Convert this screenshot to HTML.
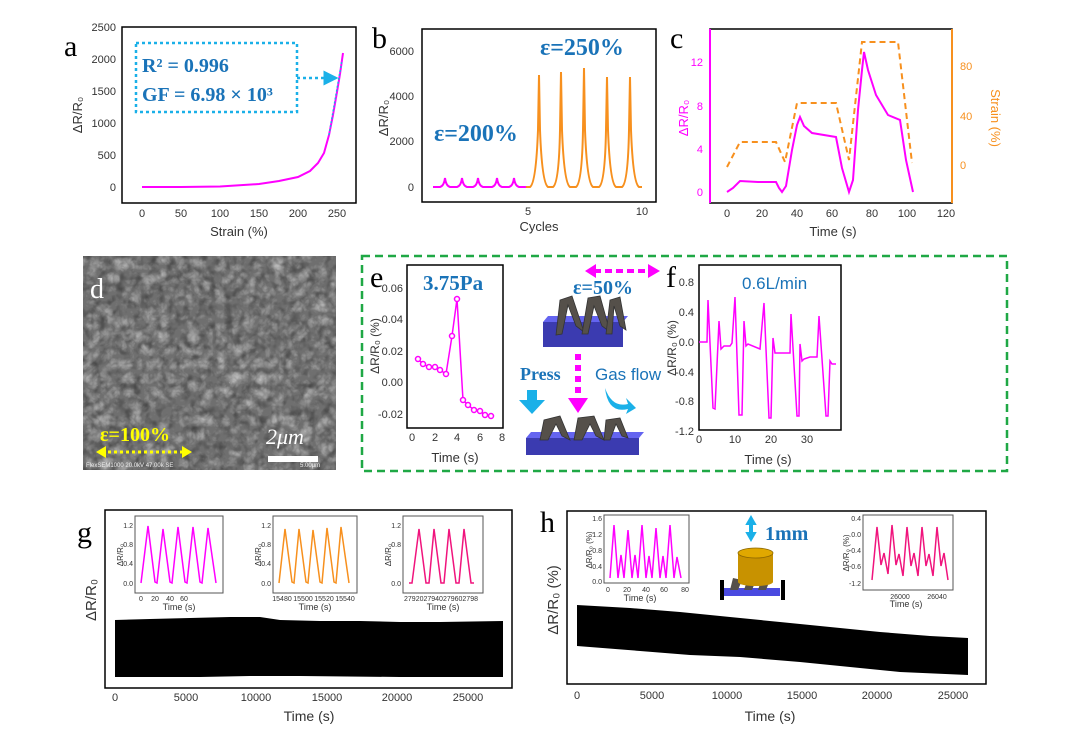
<!DOCTYPE html>
<html><head><meta charset="utf-8"><style>
html,body{margin:0;padding:0;background:#fff;width:1080px;height:729px;overflow:hidden}
svg{display:block}
text{font-family:"Liberation Sans",sans-serif}
.s{font-family:"Liberation Serif",serif}
.t{font-size:11px;fill:#333}
.ti{font-size:7px;fill:#333}
</style></head><body>
<svg width="1080" height="729" viewBox="0 0 1080 729" xmlns="http://www.w3.org/2000/svg">
<defs>
<clipPath id="semclip"><rect x="83" y="256" width="253" height="214"/></clipPath>
<filter id="sem" filterUnits="userSpaceOnUse" x="83" y="256" width="253" height="214">
<feTurbulence type="turbulence" baseFrequency="0.07" numOctaves="3" seed="4"/>
<feColorMatrix type="matrix" values="0 0 0 0 1  0 0 0 0 1  0 0 0 0 1  1.4 0 0 0 -0.25"/>
</filter>
<filter id="sem2" filterUnits="userSpaceOnUse" x="83" y="256" width="253" height="214">
<feTurbulence type="fractalNoise" baseFrequency="0.12" numOctaves="2" seed="9"/>
<feColorMatrix type="matrix" values="0 0 0 0 0  0 0 0 0 0  0 0 0 0 0  1.6 0 0 0 -0.7"/>
</filter>
<marker id="ac" markerWidth="6" markerHeight="6" refX="5" refY="3" orient="auto"><path d="M0,0L6,3L0,6z" fill="#1ab0e8"/></marker>
</defs>

<!-- ===== a ===== -->
<text x="64" y="56" class="s" font-size="30">a</text>
<rect x="122" y="27" width="234" height="176" fill="none" stroke="#000" stroke-width="1.5"/>
<g class="t" text-anchor="end">
<text x="116" y="31">2500</text><text x="116" y="63">2000</text><text x="116" y="95">1500</text><text x="116" y="127">1000</text><text x="116" y="159">500</text><text x="116" y="191">0</text></g>
<g class="t" text-anchor="middle">
<text x="142" y="217">0</text><text x="181" y="217">50</text><text x="220" y="217">100</text><text x="259" y="217">150</text><text x="298" y="217">200</text><text x="337" y="217">250</text>
<text x="239" y="236" font-size="13">Strain (%)</text></g>
<text transform="translate(82,115) rotate(-90)" text-anchor="middle" font-size="13" fill="#333">ΔR/R₀</text>
<polyline points="142,187 181,187 220,186.5 259,184 279,181 298,177 310,171 318,163 324,153 329,135 333,115 337,92 340,74 343,53" fill="none" stroke="#f0f" stroke-width="2"/>
<rect x="136" y="43" width="161" height="69" fill="none" stroke="#1ab0e8" stroke-width="2.5" stroke-dasharray="3,3"/>
<line x1="297" y1="78" x2="336" y2="78" stroke="#1ab0e8" stroke-width="2.5" stroke-dasharray="3,3" marker-end="url(#ac)"/>
<line x1="329" y1="135" x2="342" y2="60" stroke="#1ab0e8" stroke-width="1.5" stroke-dasharray="2,2"/>
<text x="142" y="72" class="s" font-size="20" font-weight="bold" fill="#1a73b8">R² = 0.996</text>
<text x="142" y="101" class="s" font-size="20" font-weight="bold" fill="#1a73b8">GF = 6.98 × 10³</text>

<!-- ===== b ===== -->
<text x="372" y="48" class="s" font-size="30">b</text>
<rect x="422" y="29" width="234" height="173" fill="none" stroke="#000" stroke-width="1.5"/>
<g class="t" text-anchor="end" font-size="10"><text x="414" y="55">6000</text><text x="414" y="100">4000</text><text x="414" y="145">2000</text><text x="414" y="191">0</text></g>
<g class="t" text-anchor="middle" font-size="10"><text x="528" y="215">5</text><text x="642" y="215">10</text>
<text x="539" y="231" font-size="13">Cycles</text></g>
<text transform="translate(388,118) rotate(-90)" text-anchor="middle" font-size="13" fill="#333">ΔR/R₀</text>
<path d="M433,187 L440,187 Q444,186 445,178 Q446,186 450,187 L457,187 Q461,186 462,178 Q463,186 467,187 L473,187 Q477,186 478,178 Q479,186 483,187 L492,187 Q496,186 497,178 Q498,186 502,187 L509,187 Q513,186 514,178 Q515,186 519,187 L526,187" fill="none" stroke="#f0f" stroke-width="2"/>
<path d="M526,187 L530,187 Q536,183 538,130 L539,75 L540,130 Q542,183 548,187 L553,187 Q559,183 560,130 L561,72 L562,130 Q564,183 570,187 L576,187 Q582,183 583,130 L584,68 L585,130 Q587,183 593,187 L599,187 Q605,183 606,130 L607,77 L608,130 Q610,183 616,187 L622,187 Q628,183 629,130 L630,77 L631,130 Q633,183 639,187 L642,187" fill="none" stroke="#f7901e" stroke-width="2"/>
<text x="540" y="55" class="s" font-size="24" font-weight="bold" fill="#1a73b8">ε=250%</text>
<text x="434" y="141" class="s" font-size="24" font-weight="bold" fill="#1a73b8">ε=200%</text>

<!-- ===== c ===== -->
<text x="670" y="48" class="s" font-size="30">c</text>
<rect x="710" y="29" width="242" height="174" fill="none" stroke="#000" stroke-width="1.5"/>
<line x1="710" y1="29" x2="710" y2="203" stroke="#f0f" stroke-width="2"/>
<line x1="952" y1="29" x2="952" y2="203" stroke="#f7901e" stroke-width="2"/>
<g text-anchor="end" font-size="11" fill="#f0f"><text x="703" y="196">0</text><text x="703" y="153">4</text><text x="703" y="110">8</text><text x="703" y="66">12</text></g>
<g font-size="11" fill="#f7901e"><text x="960" y="169">0</text><text x="960" y="120">40</text><text x="960" y="70">80</text></g>
<g class="t" text-anchor="middle"><text x="727" y="217">0</text><text x="762" y="217">20</text><text x="797" y="217">40</text><text x="832" y="217">60</text><text x="872" y="217">80</text><text x="907" y="217">100</text><text x="946" y="217">120</text>
<text x="833" y="236" font-size="13">Time (s)</text></g>
<text transform="translate(688,118) rotate(-90)" text-anchor="middle" font-size="13" fill="#f0f">ΔR/R₀</text>
<text transform="translate(991,118) rotate(90)" text-anchor="middle" font-size="13" fill="#f7901e">Strain (%)</text>
<polyline points="727,192 733,188 740,181 758,182 776,182 779,188 782,192 786,186 792,150 797,125 800,117 804,126 812,133 836,137 842,168 849,192 853,180 858,110 862,70 864,52 868,70 876,95 888,115 900,120 906,160 913,192" fill="none" stroke="#f0f" stroke-width="2"/>
<polyline points="727,167 740,142 776,142 785,162 797,103 836,103 849,160 862,42 898,42 912,163" fill="none" stroke="#f7901e" stroke-width="2" stroke-dasharray="6,4"/>

<!-- ===== d ===== -->
<g clip-path="url(#semclip)">
<rect x="83" y="256" width="253" height="214" fill="#6f6f6f"/>
<rect x="83" y="256" width="253" height="214" filter="url(#sem)" opacity="0.55"/>
<rect x="83" y="256" width="253" height="214" filter="url(#sem2)" opacity="0.5"/>
</g>
<text x="90" y="298" class="s" font-size="28" fill="#fff">d</text>
<line x1="102" y1="452" x2="186" y2="452" stroke="#ffff00" stroke-width="3" stroke-dasharray="3,3"/>
<path d="M96,452 L106,446 L106,458z M192,452 L182,446 L182,458z" fill="#ffff00"/>
<text x="100" y="441" font-size="20" font-weight="bold" class="s" fill="#ffff00">ε=100%</text>
<text x="266" y="444" font-size="22" font-style="italic" fill="#fff" class="s">2μm</text>
<rect x="268" y="456" width="50" height="6" fill="#fff"/>
<text x="86" y="467" font-size="6" fill="#eee">FlexSEM1000 20.0kV 47.00k SE</text>
<text x="300" y="467" font-size="6" fill="#eee">5.00μm</text>

<!-- ===== green box ===== -->
<rect x="362" y="256" width="645" height="215" fill="none" stroke="#1fa845" stroke-width="2.5" stroke-dasharray="8,5"/>

<!-- ===== e ===== -->
<text x="370" y="287" class="s" font-size="30">e</text>
<rect x="407" y="265" width="96" height="163" fill="none" stroke="#000" stroke-width="1.5"/>
<g class="t" text-anchor="end" font-size="9"><text x="403" y="292">0.06</text><text x="403" y="323">0.04</text><text x="403" y="355">0.02</text><text x="403" y="386">0.00</text><text x="403" y="418">-0.02</text></g>
<g class="t" text-anchor="middle" font-size="10"><text x="412" y="441">0</text><text x="435" y="441">2</text><text x="457" y="441">4</text><text x="480" y="441">6</text><text x="502" y="441">8</text>
<text x="455" y="462" font-size="13">Time (s)</text></g>
<text transform="translate(379,346) rotate(-90)" text-anchor="middle" font-size="12" fill="#333">ΔR/R₀ (%)</text>
<polyline points="418,359 423,364 429,367 435,367 440,370 446,374 452,336 457,299 463,400 468,405 474,410 480,411 485,415 491,416" fill="none" stroke="#f0f" stroke-width="1.5"/>
<g fill="#fff" stroke="#f0f" stroke-width="1.5"><circle cx="418" cy="359" r="2.5"/><circle cx="423" cy="364" r="2.5"/><circle cx="429" cy="367" r="2.5"/><circle cx="435" cy="367" r="2.5"/><circle cx="440" cy="370" r="2.5"/><circle cx="446" cy="374" r="2.5"/><circle cx="452" cy="336" r="2.5"/><circle cx="457" cy="299" r="2.5"/><circle cx="463" cy="400" r="2.5"/><circle cx="468" cy="405" r="2.5"/><circle cx="474" cy="410" r="2.5"/><circle cx="480" cy="411" r="2.5"/><circle cx="485" cy="415" r="2.5"/><circle cx="491" cy="416" r="2.5"/></g>
<text x="423" y="290" class="s" font-size="21" font-weight="bold" fill="#1a73b8">3.75Pa</text>

<!-- diagram -->
<line x1="594" y1="271" x2="648" y2="271" stroke="#f0f" stroke-width="4" stroke-dasharray="7,4"/>
<path d="M585,271 L596,264 L596,278z M660,271 L648,264 L648,278z" fill="#f0f"/>
<text x="573" y="294" class="s" font-size="20" font-weight="bold" fill="#1a73b8">ε=50%</text>
<path d="M543,322 L623,322 L623,347 L543,347z" fill="#3b3bb0"/>
<path d="M543,322 L623,322 L628,316 L548,316z" fill="#6464f0"/>
<g fill="#55504a" stroke="#333" stroke-width="0.8">
<path d="M556,335 L560,300 L572,296 L584,332 L576,326 L568,305 L562,334z"/>
<path d="M582,334 L588,298 L600,296 L610,332 L602,326 L594,306 L588,334z"/>
<path d="M606,334 L610,300 L620,297 L626,330 L620,326 L614,306 L612,334z"/></g>
<line x1="578" y1="354" x2="578" y2="400" stroke="#f0f" stroke-width="6" stroke-dasharray="6,5"/>
<path d="M568,398 L588,398 L578,413z" fill="#f0f"/>
<text x="520" y="380" class="s" font-size="18" font-weight="bold" fill="#1a73b8">Press</text>
<path d="M527,390 L537,390 L537,400 L545,400 L532,414 L519,400 L527,400z" fill="#1ab0e8"/>
<text x="595" y="380" font-size="17" fill="#1a73b8">Gas flow</text>
<path d="M605,388 Q612,408 628,404 L626,398 L636,408 L626,414 L628,409 Q608,414 605,388z" fill="#1ab0e8"/>
<path d="M526,438 L639,438 L639,455 L526,455z" fill="#3b3bb0"/>
<path d="M526,438 L639,438 L644,432 L531,432z" fill="#6464f0"/>
<g fill="#55504a" stroke="#333" stroke-width="0.8">
<path d="M540,440 L544,420 L560,416 L570,440 L562,436 L556,424 L548,440z"/>
<path d="M574,440 L578,418 L594,416 L604,440 L596,436 L590,424 L582,440z"/>
<path d="M604,440 L606,420 L620,418 L628,438 L622,436 L616,424 L610,440z"/></g>

<!-- ===== f ===== -->
<text x="666" y="287" class="s" font-size="30">f</text>
<rect x="699" y="265" width="142" height="165" fill="none" stroke="#000" stroke-width="1.5"/>
<g class="t" text-anchor="end" font-size="9"><text x="694" y="286">0.8</text><text x="694" y="316">0.4</text><text x="694" y="346">0.0</text><text x="694" y="376">-0.4</text><text x="694" y="405">-0.8</text><text x="694" y="435">-1.2</text></g>
<g class="t" text-anchor="middle" font-size="10"><text x="699" y="443">0</text><text x="735" y="443">10</text><text x="771" y="443">20</text><text x="807" y="443">30</text>
<text x="768" y="464" font-size="13">Time (s)</text></g>
<text transform="translate(676,348) rotate(-90)" text-anchor="middle" font-size="12" fill="#333">ΔR/R₀ (%)</text>
<polyline points="699,342 707,342 708,300 713,408 715,409 719,321 721,349 724,346 730,346 732,343 735,297 739,415 742,415 744,321 746,346 748,344 760,349 764,303 769,418 771,418 773,338 775,353 778,353 790,353 791,314 797,416 799,416 800,344 802,361 804,359 810,357 817,357 819,316 826,416 828,416 830,361 832,364 836,364" fill="none" stroke="#f0f" stroke-width="1.5"/>
<text x="742" y="289" font-size="17" fill="#1a73b8">0.6L/min</text>

<!-- ===== g ===== -->
<text x="77" y="542" class="s" font-size="30">g</text>
<rect x="105" y="510" width="407" height="178" fill="none" stroke="#000" stroke-width="1.5"/>
<path d="M115,620 L150,619 L190,618 L230,617 L260,617 L280,620 L320,621 L360,621 L400,622 L440,622 L503,621 L503,677 L400,677 L300,676 L250,676 L200,677 L115,677z" fill="#000"/>
<g class="t" text-anchor="middle"><text x="115" y="701">0</text><text x="186" y="701">5000</text><text x="256" y="701">10000</text><text x="327" y="701">15000</text><text x="397" y="701">20000</text><text x="468" y="701">25000</text>
<text x="309" y="721" font-size="14">Time (s)</text></g>
<text transform="translate(96,600) rotate(-90)" text-anchor="middle" font-size="15" fill="#333">ΔR/R₀</text>
<g fill="none" stroke="#555" stroke-width="1"><rect x="135" y="516" width="88" height="77"/><rect x="273" y="516" width="84" height="77"/><rect x="403" y="516" width="80" height="77"/></g>
<polyline points="141,583 148,526 155,582 157,583 163,529 170,582 172,583 178,527 185,582 187,583 193,527 200,582 202,583 208,528 216,583" fill="none" stroke="#f0f" stroke-width="1.5"/>
<polyline points="279,583 285,529 292,582 294,583 299,529 306,582 308,583 313,530 320,582 322,583 327,528 334,582 336,583 341,527 349,583" fill="none" stroke="#f7901e" stroke-width="1.5"/>
<polyline points="409,583 412,583 419,529 426,583 429,583 434,529 441,583 444,583 449,529 456,583 459,583 464,529 471,583 474,583" fill="none" stroke="#f0147d" stroke-width="1.5"/>
<g class="ti" text-anchor="end"><text x="133" y="528">1.2</text><text x="133" y="547">0.8</text><text x="133" y="566">0.4</text><text x="133" y="586">0.0</text>
<text x="271" y="528">1.2</text><text x="271" y="547">0.8</text><text x="271" y="566">0.4</text><text x="271" y="586">0.0</text>
<text x="401" y="528">1.2</text><text x="401" y="547">0.8</text><text x="401" y="586">0.0</text></g>
<g class="ti" text-anchor="middle"><text x="141" y="601">0</text><text x="155" y="601">20</text><text x="170" y="601">40</text><text x="184" y="601">60</text>
<text x="282" y="601">15480</text><text x="303" y="601">15500</text><text x="324" y="601">15520</text><text x="345" y="601">15540</text>
<text x="441" y="601">2792027940279602798</text>
<text x="179" y="610" font-size="9">Time (s)</text><text x="315" y="610" font-size="9">Time (s)</text><text x="443" y="610" font-size="9">Time (s)</text></g>
<text transform="translate(123,555) rotate(-90)" text-anchor="middle" font-size="8" fill="#333">ΔR/R₀</text>
<text transform="translate(261,555) rotate(-90)" text-anchor="middle" font-size="8" fill="#333">ΔR/R₀</text>
<text transform="translate(391,555) rotate(-90)" text-anchor="middle" font-size="8" fill="#333">ΔR/R₀</text>

<!-- ===== h ===== -->
<text x="540" y="532" class="s" font-size="30">h</text>
<rect x="567" y="511" width="419" height="173" fill="none" stroke="#000" stroke-width="1.5"/>
<path d="M577,605 L630,608 L680,612 L730,617 L780,622 L830,627 L880,632 L930,636 L968,638 L968,675 L900,672 L850,667 L800,662 L740,657 L690,655 L640,651 L577,646z" fill="#000"/>
<g class="t" text-anchor="middle"><text x="577" y="699">0</text><text x="652" y="699">5000</text><text x="727" y="699">10000</text><text x="802" y="699">15000</text><text x="877" y="699">20000</text><text x="953" y="699">25000</text>
<text x="770" y="721" font-size="14">Time (s)</text></g>
<text transform="translate(558,600) rotate(-90)" text-anchor="middle" font-size="15" fill="#333">ΔR/R₀ (%)</text>
<g fill="none" stroke="#555" stroke-width="1"><rect x="604" y="515" width="85" height="68"/><rect x="863" y="515" width="90" height="75"/></g>
<polyline points="610,578 614,525 618,578 621,555 624,578 628,530 632,578 635,555 638,578 642,525 646,578 649,556 652,578 656,528 660,578 663,556 666,578 670,525 674,578 677,557 681,578" fill="none" stroke="#f0f" stroke-width="1.5"/>
<polyline points="872,580 877,527 881,565 884,553 888,574 892,525 896,565 899,554 903,576 907,527 911,566 914,553 918,576 922,527 926,566 929,554 933,576 937,527 941,566 944,553 948,580" fill="none" stroke="#f0147d" stroke-width="1.5"/>
<g class="ti" text-anchor="end"><text x="602" y="521">1.6</text><text x="602" y="537">1.2</text><text x="602" y="553">0.8</text><text x="602" y="569">0.4</text><text x="602" y="584">0.0</text>
<text x="861" y="521">0.4</text><text x="861" y="537">0.0</text><text x="861" y="553">-0.4</text><text x="861" y="569">-0.6</text><text x="861" y="586">-1.2</text></g>
<g class="ti" text-anchor="middle"><text x="608" y="592">0</text><text x="627" y="592">20</text><text x="646" y="592">40</text><text x="664" y="592">60</text><text x="685" y="592">80</text>
<text x="900" y="599">26000</text><text x="937" y="599">26040</text>
<text x="640" y="601" font-size="9">Time (s)</text><text x="906" y="607" font-size="9">Time (s)</text></g>
<text transform="translate(592,550) rotate(-90)" text-anchor="middle" font-size="8" fill="#333">ΔR/R₀ (%)</text>
<text transform="translate(849,553) rotate(-90)" text-anchor="middle" font-size="8" fill="#333">ΔR/R₀ (%)</text>
<path d="M751,517 L747,524 L750,524 L750,533 L747,533 L751,540 L755,533 L752,533 L752,524 L755,524z" fill="#1ab0e8" stroke="#1ab0e8" stroke-width="2"/>
<text x="765" y="540" class="s" font-size="20" font-weight="bold" fill="#1a73b8">1mm</text>
<rect x="723" y="588" width="57" height="8" fill="#4a4ae0"/>
<g fill="#55504a"><path d="M730,590 L733,578 L742,580 L738,590z"/><path d="M744,590 L748,578 L756,580 L752,590z"/><path d="M758,590 L762,578 L770,580 L766,590z"/></g>
<rect x="738" y="553" width="35" height="29" fill="#c89200"/>
<ellipse cx="755.5" cy="582" rx="17.5" ry="4" fill="#c89200"/>
<ellipse cx="755.5" cy="553" rx="17.5" ry="5" fill="#e0a800" stroke="#8a6500" stroke-width="0.8"/>
<rect x="720" y="580" width="4" height="20" fill="#000"/><rect x="781" y="580" width="4" height="20" fill="#000"/>
</svg>
</body></html>
